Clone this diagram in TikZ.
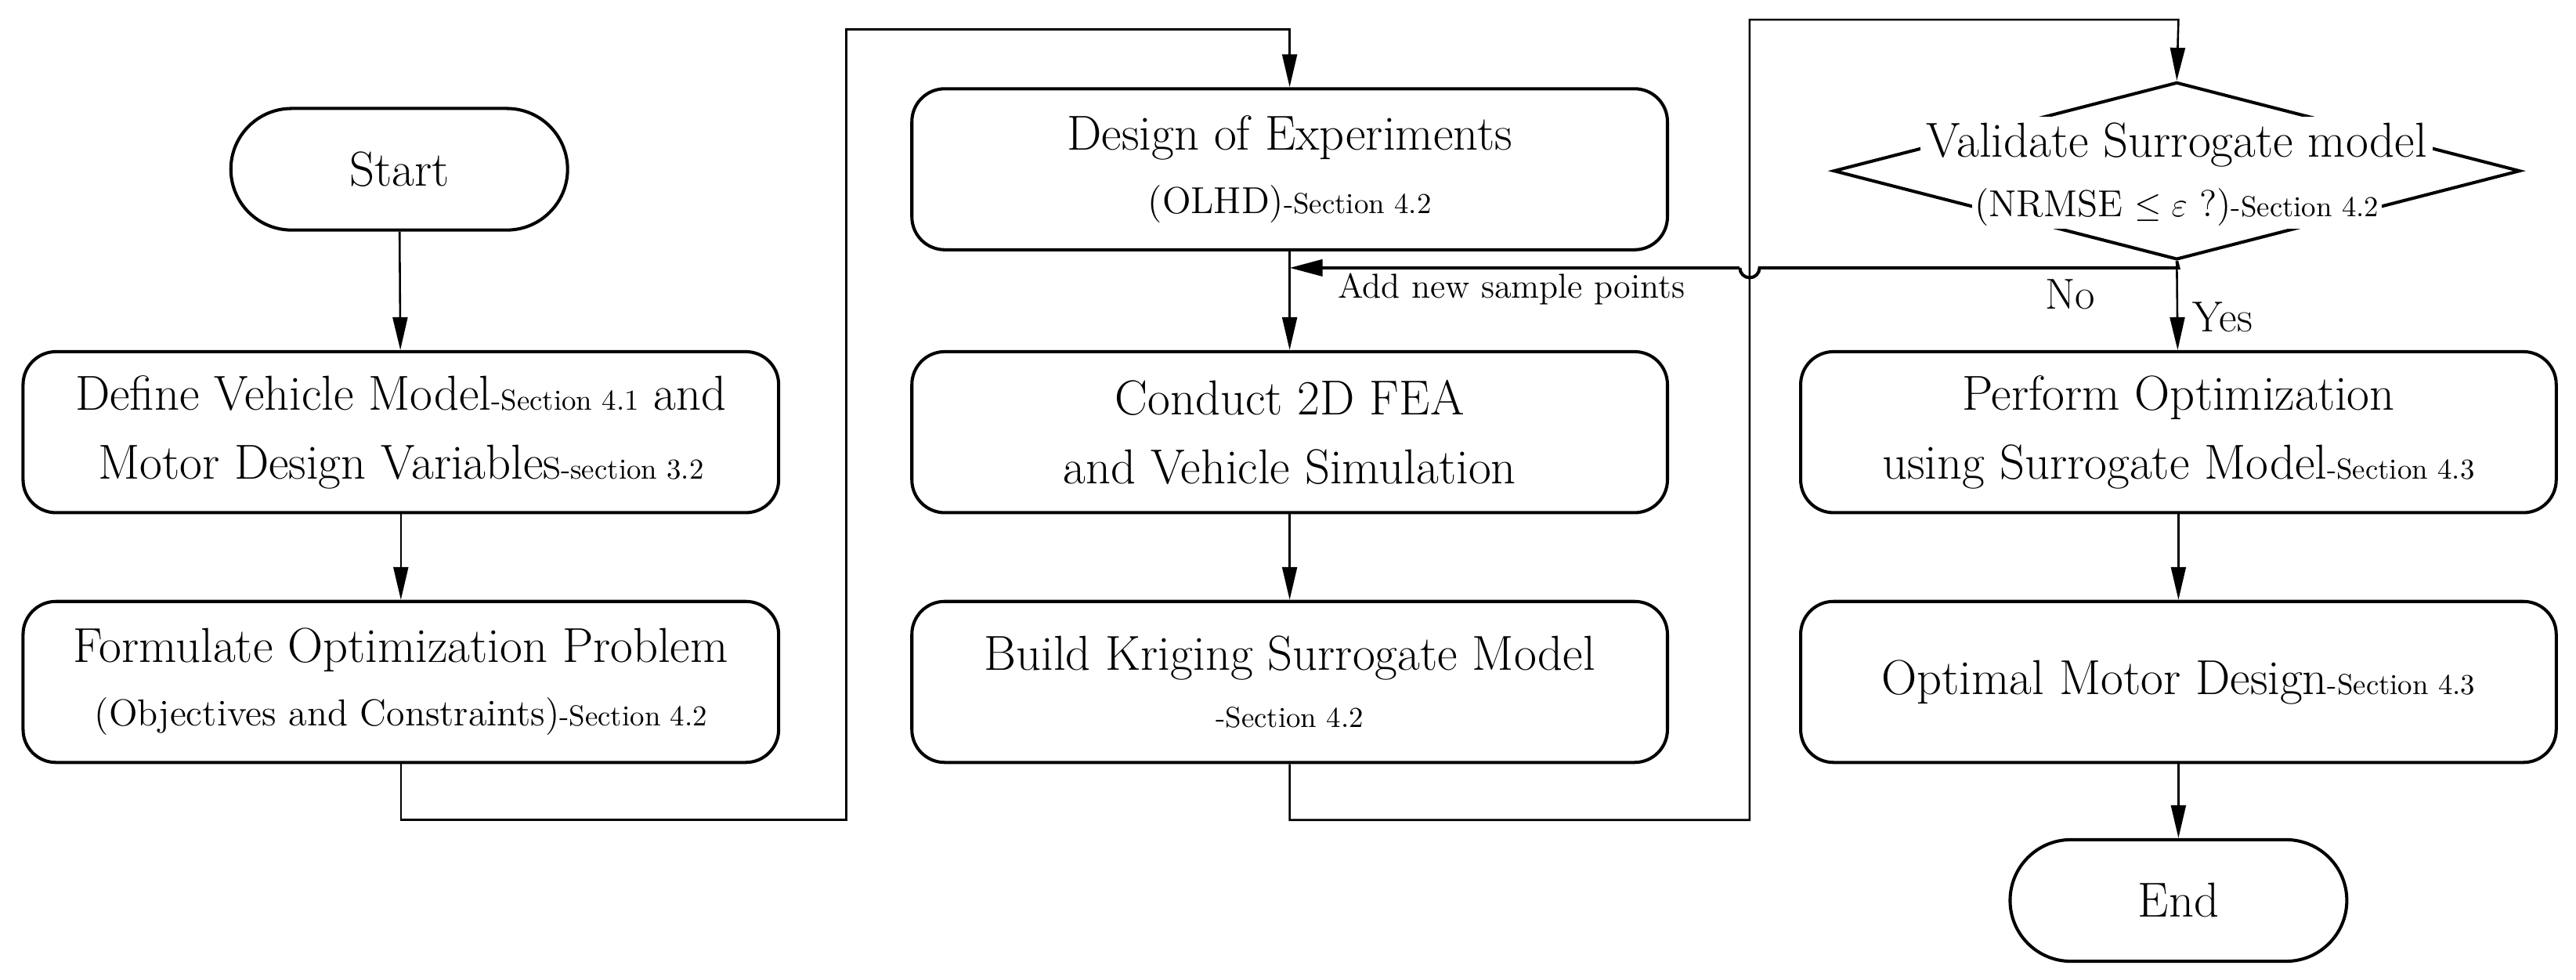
\documentclass[tikz,border=0pt]{standalone}
\usetikzlibrary{arrows.meta,shapes.geometric}
\begin{document}
\begin{tikzpicture}[x=0.02cm,y=-0.02cm,
  box/.style={draw,line width=1.1pt,rounded corners=0.4cm,minimum width=9.2cm,minimum height=1.96cm,align=center,font=\fontsize{17}{20}\selectfont},
  term/.style={draw,line width=1.1pt,rounded corners=0.74cm,minimum width=4.1cm,minimum height=1.48cm,font=\fontsize{17}{20}\selectfont},
  conn/.style={line width=0.7pt},
  arr/.style={conn,-{Triangle[length=0.4cm,width=0.18cm]}}]
\useasboundingbox (0,0) rectangle (1568,596);
\newcommand{\sect}[1]{{\fontsize{10}{12}\selectfont #1}}
\node[term] (start) at (243,103) {Start};
\node[box] (def) at (244,263) {Define Vehicle Model\sect{-Section 4.1} and\\[4pt] Motor Design Variables\sect{-section 3.2}};
\node[box] (form) at (244,415) {Formulate Optimization Problem\\[2pt] {\fontsize{13}{15}\selectfont (Objectives and Constraints)}\sect{-Section 4.2}};
\node[box] (doe) at (785,103) {Design of Experiments\\[2pt] {\fontsize{13}{15}\selectfont (OLHD)}\sect{-Section 4.2}};
\node[box] (fea) at (785,263) {Conduct 2D FEA\\[4pt] and Vehicle Simulation};
\node[box] (krig) at (785,415) {Build Kriging Surrogate Model\\[0pt] \sect{-Section 4.2}};
\node[draw,diamond,line width=1.1pt,minimum width=8.36cm,minimum height=2.16cm,inner sep=0pt] (val) at (1325,104) {};
\node[fill=white,inner sep=2pt,font=\fontsize{17}{20}\selectfont] (valt) at (1325,88) {Validate Surrogate model};
\node[fill=white,inner sep=1pt] (valt2) at (1325,126) {{\fontsize{13}{15}\selectfont (NRMSE $\leq\varepsilon$ ?)}\sect{-Section 4.2}};
\node[box] (opt) at (1326,263) {Perform Optimization\\[4pt] using Surrogate Model\sect{-Section 4.3}};
\node[box] (best) at (1326,415) {Optimal Motor Design\sect{-Section 4.3}};
\node[term] (end) at (1326,548) {End};
\coordinate (a1) at (244,499); \coordinate (a2) at (515,499); \coordinate (a3) at (515,18); \coordinate (a4) at (785,18);
\coordinate (b1) at (785,499); \coordinate (b2) at (1065,499); \coordinate (b3) at (1065,12); \coordinate (b4) at (1326,12);
\coordinate (n1) at (1326,163); \coordinate (h1) at (1071,163); \coordinate (h2) at (1059,163); \coordinate (n2) at (785,163);
\draw[arr] (start) -- (def);
\draw[arr] (def) -- (form);
\draw[arr] (form.south) -- (a1) -- (a2) -- (a3) -- (a4) -- (doe.north);
\draw[arr] (doe) -- (fea);
\draw[arr] (fea) -- (krig);
\draw[arr] (krig.south) -- (b1) -- (b2) -- (b3) -- (b4) -- (val.north);
\draw[line width=1.1pt] (val.south) -- (n1) -- (h1) arc (0:180:6) -- (h2);
\draw[line width=1.1pt,-{Triangle[length=0.4cm,width=0.2cm]}] (h2) -- (n2);
\draw[arr] (val.south) -- (opt);
\draw[arr] (opt) -- (best);
\draw[arr] (best) -- (end);
\node[font=\fontsize{12}{14}\selectfont] (lab) at (920,176) {Add new sample points};
\node[font=\fontsize{15}{18}\selectfont] (no) at (1260,179) {No};
\node[font=\fontsize{15}{18}\selectfont] (yes) at (1353,193) {Yes};
\end{tikzpicture}
\end{document}
